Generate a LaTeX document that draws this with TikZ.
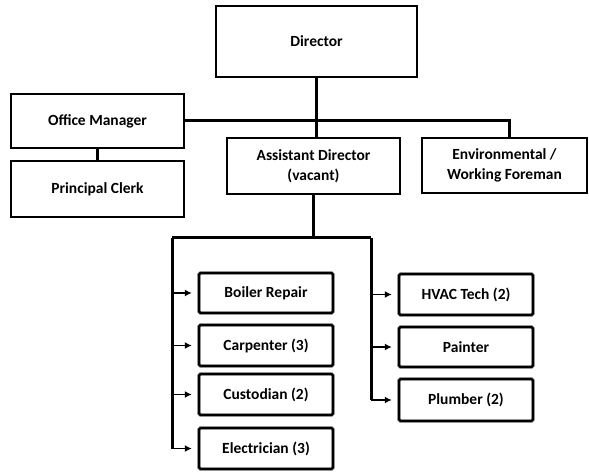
\documentclass[tikz,border=0pt]{standalone}
\usepackage{fontspec}
\setmainfont{Carlito}
\usetikzlibrary{arrows.meta}
\tikzset{
  box/.style={draw=black, line width=2.2pt, fill=white, inner sep=2pt, align=center, font=\bfseries\fontsize{15.5}{19.5}\selectfont},
  sbox/.style={draw=black!50, double=black, double distance=2.2pt, line width=0.5pt, rounded corners=1.5pt, fill=white, align=center, minimum width=134pt, font=\bfseries\fontsize{15.5}{19}\selectfont},
  conn/.style={line width=3pt},
  arr/.style={line width=1.3pt, -{Latex[length=7pt,width=7pt]}, shorten >=7pt},
}
\begin{document}
\begin{tikzpicture}[x=1pt,y=-1pt]
\useasboundingbox (0,0) rectangle (589,473);
\node[box, minimum width=201pt, minimum height=71pt] (dir) at (316.5,41.5) {Director};
\node[box, minimum width=173pt, minimum height=54pt] (om) at (97.5,121) {Office Manager};
\node[box, minimum width=173pt, minimum height=56pt] (pc) at (97.5,189) {Principal Clerk};
\node[box, minimum width=173pt, minimum height=56pt] (ad) at (313.5,166) {Assistant Director\\(vacant)};
\node[box, minimum width=165pt, minimum height=55pt] (env) at (504.5,165.5) {Environmental /\\Working Foreman};

\node[sbox, minimum height=40pt] (boiler) at (266,293) {Boiler Repair};
\node[sbox, minimum height=41pt] (carp) at (266,345.5) {Carpenter (3)};
\node[sbox, minimum height=41pt] (cust) at (266,394.5) {Custodian (2)};
\node[sbox, minimum height=41pt] (elec) at (266,448.5) {Electrician (3)};
\node[sbox, minimum height=41pt] (hvac) at (466,294.5) {HVAC Tech (2)};
\node[sbox, minimum height=40pt] (paint) at (466,347) {Painter};
\node[sbox, minimum height=42pt] (plumb) at (466,400) {Plumber (2)};

\coordinate (barL) at (172,238);
\coordinate (barR) at (371,238);
\coordinate (envtop) at ([xshift=4.5pt]env.north);

\draw[conn] (dir.south) -- (dir.south |- ad.north);
\draw[conn] (om.east) -| (envtop);
\draw[conn] (om.south) -- (pc.north);
\draw[conn] (ad.south) -- (ad.south |- barL);
\draw[conn] (barL) -- (barR);
\draw[conn] (barL) -- (barL |- elec.west);
\draw[conn] (barR) -- (barR |- plumb.west);

\draw[arr] (barL |- boiler.west) -- (boiler.west);
\draw[arr] (barL |- carp.west) -- (carp.west);
\draw[arr] (barL |- cust.west) -- (cust.west);
\draw[arr] (barL |- elec.west) -- (elec.west);
\draw[arr] (barR |- hvac.west) -- (hvac.west);
\draw[arr] (barR |- paint.west) -- (paint.west);
\draw[arr] (barR |- plumb.west) -- (plumb.west);
\end{tikzpicture}
\end{document}
